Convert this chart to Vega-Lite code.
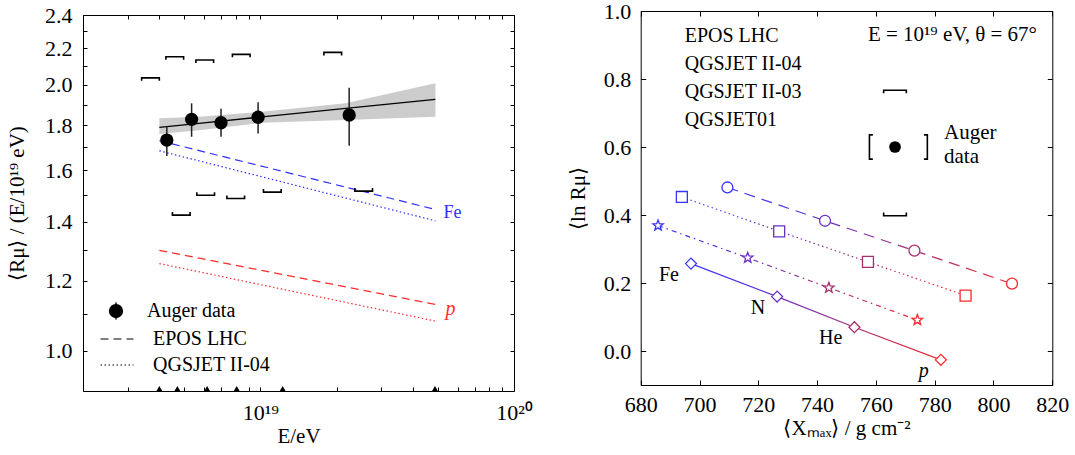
{
  "$schema": "https://vega.github.io/schema/vega-lite/v6.json",
  "padding": {"left": 6, "top": 0, "right": 2, "bottom": 2},
  "width": 970,
  "height": 376,
  "config": {
    "font": "Liberation Serif",
    "view": {"stroke": null},
    "axis": {
      "domain": true, "domainColor": "black", "domainWidth": 1, "grid": false,
      "labelFont": "Liberation Serif", "labelFontSize": 22, "labelColor": "black",
      "titleFont": "Liberation Serif", "titleFontSize": 21, "titleFontWeight": "normal", "titleColor": "black",
      "tickColor": "black", "tickWidth": 1
    },
    "legend": {"labelFont": "Liberation Serif", "labelFontSize": 20, "labelColor": "black"},
    "text": {"font": "Liberation Serif"}
  },
  "datasets": {
    "auger": [
      {"E": 4.28e18, "R": 1.732, "lo": 1.661, "hi": 1.796},
      {"E": 5.36e18, "R": 1.828, "lo": 1.747, "hi": 1.906},
      {"E": 7.0e18, "R": 1.812, "lo": 1.747, "hi": 1.879},
      {"E": 9.8e18, "R": 1.838, "lo": 1.762, "hi": 1.912},
      {"E": 2.24e19, "R": 1.849, "lo": 1.706, "hi": 1.985}
    ],
    "band": [
      {"E": 4.0e18, "lo": 1.759, "hi": 1.833, "fit": 1.790},
      {"E": 5.73e18, "lo": 1.777, "hi": 1.840, "fit": 1.809},
      {"E": 1.016e19, "lo": 1.812, "hi": 1.865, "fit": 1.840},
      {"E": 2.17e19, "lo": 1.825, "hi": 1.906, "fit": 1.881},
      {"E": 4.9e19, "lo": 1.840, "hi": 2.008, "fit": 1.926}
    ],
    "models": [
      {"model": "EPOS LHC", "primary": "Fe", "E": 4.0e18, "R": 1.729},
      {"model": "EPOS LHC", "primary": "Fe", "E": 4.9e19, "R": 1.445},
      {"model": "QGSJET II-04", "primary": "Fe", "E": 4.0e18, "R": 1.684},
      {"model": "QGSJET II-04", "primary": "Fe", "E": 4.9e19, "R": 1.403},
      {"model": "EPOS LHC", "primary": "p", "E": 4.0e18, "R": 1.299},
      {"model": "EPOS LHC", "primary": "p", "E": 4.9e19, "R": 1.128},
      {"model": "QGSJET II-04", "primary": "p", "E": 4.0e18, "R": 1.255},
      {"model": "QGSJET II-04", "primary": "p", "E": 4.9e19, "R": 1.080}
    ],
    "sysUp": [
      {"E": 3.69e18, "R": 2.037},
      {"E": 4.60e18, "R": 2.152},
      {"E": 6.04e18, "R": 2.134},
      {"E": 8.41e18, "R": 2.166},
      {"E": 1.93e19, "R": 2.177}
    ],
    "sysLo": [
      {"E": 4.88e18, "R": 1.424},
      {"E": 6.09e18, "R": 1.500},
      {"E": 8.0e18, "R": 1.487},
      {"E": 1.115e19, "R": 1.512},
      {"E": 2.555e19, "R": 1.516}
    ],
    "edges": [
      {"E": 4.0e18}, {"E": 4.71e18}, {"E": 6.17e18}, {"E": 8.07e18}, {"E": 1.225e19}, {"E": 4.88e19}
    ],
    "sims": [
      {"model": "EPOS LHC", "primary": "Fe", "X": 709.5, "Y": 0.481},
      {"model": "EPOS LHC", "primary": "N", "X": 742.7, "Y": 0.383},
      {"model": "EPOS LHC", "primary": "He", "X": 773.1, "Y": 0.295},
      {"model": "EPOS LHC", "primary": "p", "X": 806.3, "Y": 0.198},
      {"model": "QGSJET II-04", "primary": "Fe", "X": 694.0, "Y": 0.453},
      {"model": "QGSJET II-04", "primary": "N", "X": 727.1, "Y": 0.352},
      {"model": "QGSJET II-04", "primary": "He", "X": 757.3, "Y": 0.262},
      {"model": "QGSJET II-04", "primary": "p", "X": 790.5, "Y": 0.163},
      {"model": "QGSJET II-03", "primary": "Fe", "X": 697.1, "Y": 0.257},
      {"model": "QGSJET II-03", "primary": "N", "X": 726.4, "Y": 0.160},
      {"model": "QGSJET II-03", "primary": "He", "X": 752.7, "Y": 0.070},
      {"model": "QGSJET II-03", "primary": "p", "X": 782.1, "Y": -0.026},
      {"model": "QGSJET01", "primary": "Fe", "X": 685.9, "Y": 0.369},
      {"model": "QGSJET01", "primary": "N", "X": 716.4, "Y": 0.274},
      {"model": "QGSJET01", "primary": "He", "X": 744.0, "Y": 0.186},
      {"model": "QGSJET01", "primary": "p", "X": 774.1, "Y": 0.091}
    ],
    "augerR": [
      {"X": 766.5, "Y": 0.60, "Xlo": 757.8, "Xhi": 777.5, "Ylo": 0.398, "Yhi": 0.767}
    ]
  },
  "layer": [
    {
      "data": {"name": "band"},
      "mark": {"type": "area", "color": "#cccccc"},
      "encoding": {
        "x": {"field": "E", "type": "quantitative", "scale": {"type": "log", "domain": [2e18, 1e20], "range": [0, 431], "nice": false},
          "axis": {"orient": "bottom", "values": [2e18, 3e18, 4e18, 5e18, 6e18, 7e18, 8e18, 9e18, 1e19, 2e19, 3e19, 4e19, 5e19, 6e19, 7e19, 8e19, 9e19, 1e20],
            "labelExpr": "datum.value == 1e19 ? '10¹⁹' : datum.value == 1e20 ? '10²⁰' : ''",
            "tickSize": -4, "labelPadding": 15, "labelFlush": false, "labelOverlap": false, "labelBound": false,
            "title": "E/eV", "titlePadding": 2}},
        "y": {"field": "lo", "type": "quantitative", "scale": {"type": "log", "domain": [0.9, 2.4], "range": [376, 0], "nice": false},
          "axis": {"orient": "left", "values": [1.0, 1.1, 1.2, 1.3, 1.4, 1.5, 1.6, 1.7, 1.8, 1.9, 2.0, 2.1, 2.2, 2.3, 2.4],
            "labelExpr": "abs(datum.value*5 - round(datum.value*5)) < 0.001 ? format(datum.value, '.1f') : ''",
            "tickSize": -4, "labelPadding": 15, "labelOverlap": false, "labelFlush": false,
            "title": "⟨Rμ⟩ / (E/10¹⁹ eV)", "titlePadding": 17}},
        "y2": {"field": "hi"}
      }
    },
    {
      "data": {"name": "band"},
      "mark": {"type": "line", "color": "black", "strokeWidth": 1.3},
      "encoding": {
        "x": {"field": "E", "type": "quantitative", "scale": {"type": "log", "domain": [2e18, 1e20], "range": [0, 431], "nice": false},
          "axis": {"orient": "top", "values": [2e18, 3e18, 4e18, 5e18, 6e18, 7e18, 8e18, 9e18, 1e19, 2e19, 3e19, 4e19, 5e19, 6e19, 7e19, 8e19, 9e19, 1e20],
            "labels": false, "title": null, "tickSize": -4}},
        "y": {"field": "fit", "type": "quantitative", "scale": {"type": "log", "domain": [0.9, 2.4], "range": [376, 0], "nice": false},
          "axis": {"orient": "right", "offset": -539, "values": [1.0, 1.1, 1.2, 1.3, 1.4, 1.5, 1.6, 1.7, 1.8, 1.9, 2.0, 2.1, 2.2, 2.3, 2.4],
            "labels": false, "title": null, "tickSize": -4}}
      }
    },
    {
      "data": {"name": "models"},
      "mark": {"type": "line", "strokeWidth": 1.2},
      "encoding": {
        "x": {"field": "E", "type": "quantitative", "scale": {"type": "log", "domain": [2e18, 1e20], "range": [0, 431], "nice": false}, "axis": null},
        "y": {"field": "R", "type": "quantitative", "scale": {"type": "log", "domain": [0.9, 2.4], "range": [376, 0], "nice": false}, "axis": null},
        "color": {"field": "primary", "type": "nominal", "scale": {"domain": ["Fe", "p"], "range": ["#2f2fff", "#ff2b2b"]}, "legend": null},
        "strokeDash": {"field": "model", "type": "nominal", "scale": {"domain": ["EPOS LHC", "QGSJET II-04"], "range": [[8, 5], [1.5, 2.5]]},
          "legend": {"orient": "none", "legendX": 22, "legendY": 312, "title": null, "padding": 0,
            "symbolType": "M-1.5,0L1.5,0", "symbolSize": 484, "symbolStrokeWidth": 1.2, "symbolStrokeColor": "black",
            "labelOffset": 24, "rowPadding": 4}}
      }
    },
    {
      "data": {"name": "sysUp"},
      "mark": {"type": "point", "shape": "M-1,0.34L-1,0L1,0L1,0.34", "size": 313, "stroke": "black", "strokeWidth": 1.6, "filled": false, "opacity": 1},
      "encoding": {
        "x": {"field": "E", "type": "quantitative", "scale": {"type": "log", "domain": [2e18, 1e20], "range": [0, 431], "nice": false}, "axis": null},
        "y": {"field": "R", "type": "quantitative", "scale": {"type": "log", "domain": [0.9, 2.4], "range": [376, 0], "nice": false}, "axis": null}
      }
    },
    {
      "data": {"name": "sysLo"},
      "mark": {"type": "point", "shape": "M-1,-0.34L-1,0L1,0L1,-0.34", "size": 313, "stroke": "black", "strokeWidth": 1.6, "filled": false, "opacity": 1},
      "encoding": {
        "x": {"field": "E", "type": "quantitative", "scale": {"type": "log", "domain": [2e18, 1e20], "range": [0, 431], "nice": false}, "axis": null},
        "y": {"field": "R", "type": "quantitative", "scale": {"type": "log", "domain": [0.9, 2.4], "range": [376, 0], "nice": false}, "axis": null}
      }
    },
    {
      "data": {"name": "auger"},
      "mark": {"type": "rule", "color": "#222222", "strokeWidth": 1.5},
      "encoding": {
        "x": {"field": "E", "type": "quantitative", "scale": {"type": "log", "domain": [2e18, 1e20], "range": [0, 431], "nice": false}, "axis": null},
        "y": {"field": "lo", "type": "quantitative", "scale": {"type": "log", "domain": [0.9, 2.4], "range": [376, 0], "nice": false}, "axis": null},
        "y2": {"field": "hi"}
      }
    },
    {
      "data": {"name": "auger"},
      "mark": {"type": "circle", "size": 177, "opacity": 1},
      "encoding": {
        "x": {"field": "E", "type": "quantitative", "scale": {"type": "log", "domain": [2e18, 1e20], "range": [0, 431], "nice": false}, "axis": null},
        "y": {"field": "R", "type": "quantitative", "scale": {"type": "log", "domain": [0.9, 2.4], "range": [376, 0], "nice": false}, "axis": null},
        "fill": {"datum": "Auger data", "type": "nominal", "scale": {"range": ["black"]},
          "legend": {"orient": "none", "legendX": 23, "legendY": 286, "title": null, "padding": 0,
            "symbolType": "M-0.75,0A0.75,0.75 0 1,1 0.75,0A0.75,0.75 0 1,1 -0.75,0Z M0,-1L0,1",
            "symbolSize": 289, "symbolStrokeWidth": 1.5, "symbolStrokeColor": "black", "labelOffset": 21}}
      }
    },
    {
      "data": {"name": "edges"},
      "mark": {"type": "point", "shape": "triangle-up", "filled": true, "color": "black", "size": 34, "opacity": 1},
      "encoding": {
        "x": {"field": "E", "type": "quantitative", "scale": {"type": "log", "domain": [2e18, 1e20], "range": [0, 431], "nice": false}, "axis": null},
        "y": {"datum": 0.906, "type": "quantitative", "scale": {"type": "log", "domain": [0.9, 2.4], "range": [376, 0], "nice": false}, "axis": null}
      }
    },
    {
      "data": {"name": "models"},
      "transform": [{"filter": "datum.model == 'EPOS LHC' && datum.E > 1e19 && datum.primary == 'Fe'"}],
      "mark": {"type": "text", "align": "left", "baseline": "middle", "dx": 8, "dy": 4, "fontSize": 18, "color": "#2f2fff"},
      "encoding": {
        "x": {"field": "E", "type": "quantitative", "scale": {"type": "log", "domain": [2e18, 1e20], "range": [0, 431], "nice": false}, "axis": null},
        "y": {"field": "R", "type": "quantitative", "scale": {"type": "log", "domain": [0.9, 2.4], "range": [376, 0], "nice": false}, "axis": null},
        "text": {"field": "primary"}
      }
    },
    {
      "data": {"name": "models"},
      "transform": [{"filter": "datum.model == 'EPOS LHC' && datum.E > 1e19 && datum.primary == 'p'"}],
      "mark": {"type": "text", "align": "left", "baseline": "middle", "dx": 10, "dy": 5, "fontSize": 20, "fontStyle": "italic", "color": "#ff2b2b"},
      "encoding": {
        "x": {"field": "E", "type": "quantitative", "scale": {"type": "log", "domain": [2e18, 1e20], "range": [0, 431], "nice": false}, "axis": null},
        "y": {"field": "R", "type": "quantitative", "scale": {"type": "log", "domain": [0.9, 2.4], "range": [376, 0], "nice": false}, "axis": null},
        "text": {"field": "primary"}
      }
    },
    {
      "data": {"name": "sims"},
      "transform": [{"filter": "datum.model == 'EPOS LHC'"}],
      "mark": {"type": "line", "strokeWidth": 1.2, "strokeDash": [11, 7],
        "stroke": {"gradient": "linear", "x1": 0, "y1": 0, "x2": 1, "y2": 0,
          "stops": [{"offset": 0, "color": "#3535ff"}, {"offset": 0.35, "color": "#6b2fc2"}, {"offset": 0.68, "color": "#a8306e"}, {"offset": 1, "color": "#f22a2a"}]}},
      "encoding": {
        "x": {"field": "X", "type": "quantitative", "scale": {"domain": [680, 820], "range": [557.7, 969.3], "nice": false, "zero": false},
          "axis": {"orient": "bottom", "offset": -6, "values": [680, 700, 720, 740, 760, 780, 800, 820], "tickSize": -5,
            "labelPadding": 14, "labelFlush": false, "title": "⟨Xₘₐₓ⟩ / g cm⁻²", "titlePadding": 2}},
        "y": {"field": "Y", "type": "quantitative", "scale": {"domain": [-0.1, 1.0], "range": [370, -4], "nice": false, "zero": false},
          "axis": {"orient": "left", "offset": -557.7, "values": [0, 0.2, 0.4, 0.6, 0.8, 1.0], "format": ".1f", "tickSize": -5,
            "labelPadding": 15, "labelFlush": false, "title": "⟨ln Rμ⟩", "titlePadding": 15}}
      }
    },
    {
      "data": {"name": "sims"},
      "transform": [{"filter": "datum.model == 'QGSJET II-04'"}],
      "mark": {"type": "line", "strokeWidth": 1.2, "strokeDash": [1.5, 3],
        "stroke": {"gradient": "linear", "x1": 0, "y1": 0, "x2": 1, "y2": 0,
          "stops": [{"offset": 0, "color": "#3535ff"}, {"offset": 0.35, "color": "#6b2fc2"}, {"offset": 0.68, "color": "#a8306e"}, {"offset": 1, "color": "#f22a2a"}]}},
      "encoding": {
        "x": {"field": "X", "type": "quantitative", "scale": {"domain": [680, 820], "range": [557.7, 969.3], "nice": false, "zero": false},
          "axis": {"orient": "top", "offset": 4, "values": [680, 700, 720, 740, 760, 780, 800, 820], "tickSize": -5, "labels": false, "title": null}},
        "y": {"field": "Y", "type": "quantitative", "scale": {"domain": [-0.1, 1.0], "range": [370, -4], "nice": false, "zero": false},
          "axis": {"orient": "right", "offset": -0.7, "values": [0, 0.2, 0.4, 0.6, 0.8, 1.0], "tickSize": -5, "labels": false, "title": null}}
      }
    },
    {
      "data": {"name": "sims"},
      "transform": [{"filter": "datum.model == 'QGSJET II-03'"}],
      "mark": {"type": "line", "strokeWidth": 1.2,
        "stroke": {"gradient": "linear", "x1": 0, "y1": 0, "x2": 1, "y2": 0,
          "stops": [{"offset": 0, "color": "#3535ff"}, {"offset": 0.35, "color": "#6b2fc2"}, {"offset": 0.68, "color": "#a8306e"}, {"offset": 1, "color": "#f22a2a"}]}},
      "encoding": {
        "x": {"field": "X", "type": "quantitative", "scale": {"domain": [680, 820], "range": [557.7, 969.3], "nice": false, "zero": false}, "axis": null},
        "y": {"field": "Y", "type": "quantitative", "scale": {"domain": [-0.1, 1.0], "range": [370, -4], "nice": false, "zero": false}, "axis": null}
      }
    },
    {
      "data": {"name": "sims"},
      "transform": [{"filter": "datum.model == 'QGSJET01'"}],
      "mark": {"type": "line", "strokeWidth": 1.2, "strokeDash": [5, 4, 1.5, 4],
        "stroke": {"gradient": "linear", "x1": 0, "y1": 0, "x2": 1, "y2": 0,
          "stops": [{"offset": 0, "color": "#3535ff"}, {"offset": 0.35, "color": "#6b2fc2"}, {"offset": 0.68, "color": "#a8306e"}, {"offset": 1, "color": "#f22a2a"}]}},
      "encoding": {
        "x": {"field": "X", "type": "quantitative", "scale": {"domain": [680, 820], "range": [557.7, 969.3], "nice": false, "zero": false}, "axis": null},
        "y": {"field": "Y", "type": "quantitative", "scale": {"domain": [-0.1, 1.0], "range": [370, -4], "nice": false, "zero": false}, "axis": null}
      }
    },
    {
      "data": {"name": "sims"},
      "mark": {"type": "point", "filled": true, "fill": "white", "strokeWidth": 1.3, "size": 120, "opacity": 1},
      "encoding": {
        "x": {"field": "X", "type": "quantitative", "scale": {"domain": [680, 820], "range": [557.7, 969.3], "nice": false, "zero": false}, "axis": null},
        "y": {"field": "Y", "type": "quantitative", "scale": {"domain": [-0.1, 1.0], "range": [370, -4], "nice": false, "zero": false}, "axis": null},
        "stroke": {"field": "primary", "type": "nominal", "scale": {"domain": ["Fe", "N", "He", "p"], "range": ["#3535ff", "#6b2fc2", "#a8306e", "#f22a2a"]}, "legend": null},
        "shape": {"field": "model", "type": "nominal",
          "scale": {"domain": ["EPOS LHC", "QGSJET II-04", "QGSJET II-03", "QGSJET01"],
            "range": ["circle", "square", "diamond", "M0,-1L0.247,-0.34L0.951,-0.309L0.4,0.13L0.588,0.809L0,0.42L-0.588,0.809L-0.4,0.13L-0.951,-0.309L-0.247,-0.34Z"]},
          "legend": {"orient": "none", "legendX": 571.7, "legendY": 10.7, "title": null, "padding": 0,
            "symbolSize": 110, "symbolStrokeColor": "black", "symbolFillColor": "white", "symbolStrokeWidth": 1.1,
            "labelOffset": 10, "rowPadding": 8}}
      }
    },
    {
      "data": {"name": "augerR"},
      "mark": {"type": "circle", "size": 137, "color": "black", "opacity": 1},
      "encoding": {
        "x": {"field": "X", "type": "quantitative", "scale": {"domain": [680, 820], "range": [557.7, 969.3], "nice": false, "zero": false}, "axis": null},
        "y": {"field": "Y", "type": "quantitative", "scale": {"domain": [-0.1, 1.0], "range": [370, -4], "nice": false, "zero": false}, "axis": null}
      }
    },
    {
      "data": {"name": "augerR"},
      "mark": {"type": "point", "shape": "M0.28,-1L0,-1L0,1L0.28,1", "size": 590, "stroke": "black", "strokeWidth": 1.6, "filled": false, "opacity": 1},
      "encoding": {
        "x": {"field": "Xlo", "type": "quantitative", "scale": {"domain": [680, 820], "range": [557.7, 969.3], "nice": false, "zero": false}, "axis": null},
        "y": {"field": "Y", "type": "quantitative", "scale": {"domain": [-0.1, 1.0], "range": [370, -4], "nice": false, "zero": false}, "axis": null}
      }
    },
    {
      "data": {"name": "augerR"},
      "mark": {"type": "point", "shape": "M-0.28,-1L0,-1L0,1L-0.28,1", "size": 590, "stroke": "black", "strokeWidth": 1.6, "filled": false, "opacity": 1},
      "encoding": {
        "x": {"field": "Xhi", "type": "quantitative", "scale": {"domain": [680, 820], "range": [557.7, 969.3], "nice": false, "zero": false}, "axis": null},
        "y": {"field": "Y", "type": "quantitative", "scale": {"domain": [-0.1, 1.0], "range": [370, -4], "nice": false, "zero": false}, "axis": null}
      }
    },
    {
      "data": {"name": "augerR"},
      "mark": {"type": "point", "shape": "M-1,0.27L-1,0L1,0L1,0.27", "size": 515, "stroke": "black", "strokeWidth": 1.6, "filled": false, "opacity": 1},
      "encoding": {
        "x": {"field": "X", "type": "quantitative", "scale": {"domain": [680, 820], "range": [557.7, 969.3], "nice": false, "zero": false}, "axis": null},
        "y": {"field": "Yhi", "type": "quantitative", "scale": {"domain": [-0.1, 1.0], "range": [370, -4], "nice": false, "zero": false}, "axis": null}
      }
    },
    {
      "data": {"name": "augerR"},
      "mark": {"type": "point", "shape": "M-1,-0.27L-1,0L1,0L1,-0.27", "size": 515, "stroke": "black", "strokeWidth": 1.6, "filled": false, "opacity": 1},
      "encoding": {
        "x": {"field": "X", "type": "quantitative", "scale": {"domain": [680, 820], "range": [557.7, 969.3], "nice": false, "zero": false}, "axis": null},
        "y": {"field": "Ylo", "type": "quantitative", "scale": {"domain": [-0.1, 1.0], "range": [370, -4], "nice": false, "zero": false}, "axis": null}
      }
    },
    {
      "data": {"name": "augerR"},
      "mark": {"type": "text", "text": "Auger", "align": "left", "baseline": "middle", "dx": 49, "dy": -14, "fontSize": 21, "color": "black"},
      "encoding": {
        "x": {"field": "X", "type": "quantitative", "scale": {"domain": [680, 820], "range": [557.7, 969.3], "nice": false, "zero": false}, "axis": null},
        "y": {"field": "Y", "type": "quantitative", "scale": {"domain": [-0.1, 1.0], "range": [370, -4], "nice": false, "zero": false}, "axis": null}
      }
    },
    {
      "data": {"name": "augerR"},
      "mark": {"type": "text", "text": "data", "align": "left", "baseline": "middle", "dx": 49, "dy": 10, "fontSize": 21, "color": "black"},
      "encoding": {
        "x": {"field": "X", "type": "quantitative", "scale": {"domain": [680, 820], "range": [557.7, 969.3], "nice": false, "zero": false}, "axis": null},
        "y": {"field": "Y", "type": "quantitative", "scale": {"domain": [-0.1, 1.0], "range": [370, -4], "nice": false, "zero": false}, "axis": null}
      }
    },
    {
      "data": {"name": "augerR"},
      "mark": {"type": "text", "text": "E = 10¹⁹ eV, θ = 67°", "align": "right", "baseline": "middle", "dx": 142, "dy": -112, "fontSize": 21, "color": "black"},
      "encoding": {
        "x": {"field": "X", "type": "quantitative", "scale": {"domain": [680, 820], "range": [557.7, 969.3], "nice": false, "zero": false}, "axis": null},
        "y": {"field": "Y", "type": "quantitative", "scale": {"domain": [-0.1, 1.0], "range": [370, -4], "nice": false, "zero": false}, "axis": null}
      }
    },
    {
      "data": {"name": "sims"},
      "transform": [{"filter": "datum.model == 'QGSJET II-03' && datum.primary != 'p'"}],
      "mark": {"type": "text", "align": "right", "baseline": "middle", "dx": -12, "dy": 11, "fontSize": 20, "color": "black"},
      "encoding": {
        "x": {"field": "X", "type": "quantitative", "scale": {"domain": [680, 820], "range": [557.7, 969.3], "nice": false, "zero": false}, "axis": null},
        "y": {"field": "Y", "type": "quantitative", "scale": {"domain": [-0.1, 1.0], "range": [370, -4], "nice": false, "zero": false}, "axis": null},
        "text": {"field": "primary"}
      }
    },
    {
      "data": {"name": "sims"},
      "transform": [{"filter": "datum.model == 'QGSJET II-03' && datum.primary == 'p'"}],
      "mark": {"type": "text", "align": "right", "baseline": "middle", "dx": -12, "dy": 11, "fontSize": 20, "fontStyle": "italic", "color": "black"},
      "encoding": {
        "x": {"field": "X", "type": "quantitative", "scale": {"domain": [680, 820], "range": [557.7, 969.3], "nice": false, "zero": false}, "axis": null},
        "y": {"field": "Y", "type": "quantitative", "scale": {"domain": [-0.1, 1.0], "range": [370, -4], "nice": false, "zero": false}, "axis": null},
        "text": {"field": "primary"}
      }
    }
  ],
  "resolve": {"scale": {"x": "independent", "y": "independent"}, "axis": {"x": "independent", "y": "independent"}}
}
